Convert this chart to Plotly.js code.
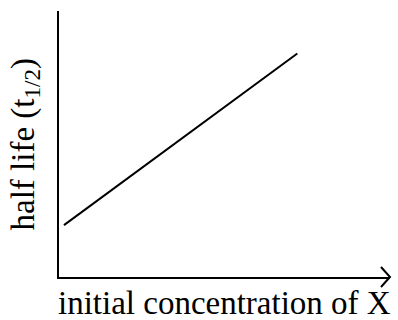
<!DOCTYPE html>
<html>
<head>
<meta charset="utf-8">
<script src="https://cdn.plot.ly/plotly-3.0.1.min.js"></script>
<style>
  html, body { margin: 0; padding: 0; background: #fff; }
  #plot { width: 398px; height: 320px; }
</style>
</head>
<body>
<div id="plot"></div>
<script>
// sketch: half life grows linearly with initial concentration
var concValues = [0.15, 7.2];
var halfLifeValues = [1.95, 8.4];

var xTitle = 'initial concentration of X';
var yTitle = 'half life (t<sub>1/2</sub>)';

var trace1 = {
  x: concValues,
  y: halfLifeValues,
  type: 'scatter',
  mode: 'lines',
  line: { color: '#000', width: 2 },
  hoverinfo: 'skip'
};

var titleFont = { family: 'Liberation Serif', size: 33, color: '#000' };

var layout = {
  width: 398,
  height: 320,
  margin: { l: 59, r: 8, t: 11, b: 43 },
  paper_bgcolor: '#fff',
  plot_bgcolor: '#fff',
  showlegend: false,
  xaxis: {
    range: [0, 10],
    showgrid: false,
    zeroline: false,
    showticklabels: false,
    ticks: '',
    showline: true,
    linecolor: '#000',
    linewidth: 2,
    fixedrange: true
  },
  yaxis: {
    range: [0, 10],
    showgrid: false,
    zeroline: false,
    showticklabels: false,
    ticks: '',
    showline: true,
    linecolor: '#000',
    linewidth: 2,
    fixedrange: true
  },
  // axis titles as annotations so they can sit lower / further out than the margins allow
  annotations: [
    {
      text: xTitle,
      xref: 'paper', yref: 'paper',
      x: 0.5, y: 0,
      xanchor: 'center', yanchor: 'top',
      yshift: -6,
      showarrow: false,
      font: titleFont
    },
    {
      text: yTitle,
      xref: 'paper', yref: 'paper',
      x: 0, y: 0.5,
      xanchor: 'right', yanchor: 'middle',
      xshift: -12,
      textangle: -90,
      showarrow: false,
      font: titleFont
    }
  ],
  // open arrow head at the end of the x axis
  shapes: [{
    type: 'path',
    xref: 'paper', yref: 'paper',
    xsizemode: 'pixel', ysizemode: 'pixel',
    xanchor: 1, yanchor: 0,
    path: 'M -9,10 L 0,0 L -9,-10',
    line: { color: '#000', width: 2 }
  }]
};

Plotly.newPlot('plot', [trace1], layout, { displayModeBar: false, staticPlot: true });
</script>
</body>
</html>
